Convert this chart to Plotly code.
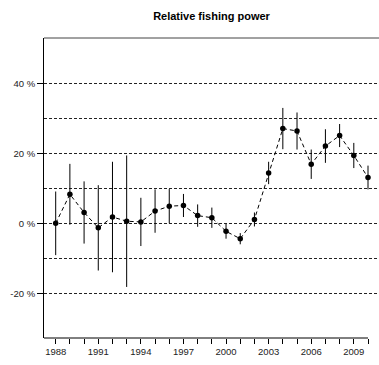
import plotly.graph_objects as go

years = list(range(1988, 2011))
power = [0.0, 8.3, 3.1, -1.3, 1.8, 0.6, 0.4, 3.5, 4.9, 5.1, 2.2, 1.6, -2.3, -4.4,
         1.1, 14.4, 27.1, 26.4, 16.9, 22.1, 25.1, 19.4, 13.1]
err = [9.1, 8.7, 8.9, 12.2, 15.8, 18.8, 6.9, 6.2, 4.9, 3.3, 3.2, 2.9, 2.1, 1.6,
       2.0, 3.2, 5.9, 5.3, 4.2, 4.8, 3.3, 3.6, 3.4]
ytick_vals = [-20, 0, 20, 40]
ytick_text = ["-20 %", "0 %", "20 %", "40 %"]
ygrid_minor = [-10, 10, 30]
title = "Relative fishing power"

FONT = "Liberation Sans, Arial, sans-serif"
xr = [1987.176, 2010.775]
yr = [-32.8, 53.0]

fig = go.Figure()
fig.add_trace(go.Scatter(
    x=years, y=power, mode="lines+markers",
    line=dict(color="black", width=1, dash="4px,3px"),
    marker=dict(color="black", size=5.5),
    error_y=dict(type="data", array=err, visible=True, color="black",
                 thickness=1, width=0),
    showlegend=False,
))

fig.update_layout(
    width=379, height=365,
    margin=dict(l=44, r=0, t=38, b=27, autoexpand=False),
    paper_bgcolor="white", plot_bgcolor="white",
    font=dict(family=FONT, size=9.5, color="#222"),
    title=dict(text="<b>" + title + "</b>", x=0.5, xref="paper",
               y=1 - 16 / 365, yref="container", yanchor="middle",
               font=dict(family=FONT, size=11, color="black")),
    xaxis=dict(range=xr, tickmode="linear", tick0=1988, dtick=3,
               automargin=False,
               ticks="outside", ticklen=5, tickcolor="black", tickwidth=1,
               showgrid=False, zeroline=False, showline=False,
               tickfont=dict(size=9.5),
               minor=dict(tickmode="linear", tick0=1988, dtick=1,
                          ticks="outside", ticklen=5, tickcolor="black",
                          showgrid=False)),
    yaxis=dict(range=yr, tickmode="array", tickvals=ytick_vals,
               ticktext=ytick_text, ticks="outside", ticklen=6,
               automargin=False,
               tickcolor="black", showline=True, linecolor="black",
               linewidth=1, zeroline=False,
               showgrid=True, gridcolor="#222", gridwidth=1, griddash="3px,2px",
               minor=dict(tickmode="array", tickvals=ygrid_minor, ticks="",
                          showgrid=True, gridcolor="#222", gridwidth=1,
                          griddash="3px,2px")),
    shapes=[
        dict(type="line", xref="x", yref="paper", x0=xr[0], x1=2010,
             y0=0, y1=0, line=dict(color="black", width=1)),
        dict(type="line", xref="paper", yref="paper", x0=0, x1=1,
             y0=1, y1=1, line=dict(color="#444", width=1)),
    ],
)

fig.write_html("out.html",
               config={"displayModeBar": False},
               post_script="document.body.style.margin='0';document.body.style.overflow='hidden';")
